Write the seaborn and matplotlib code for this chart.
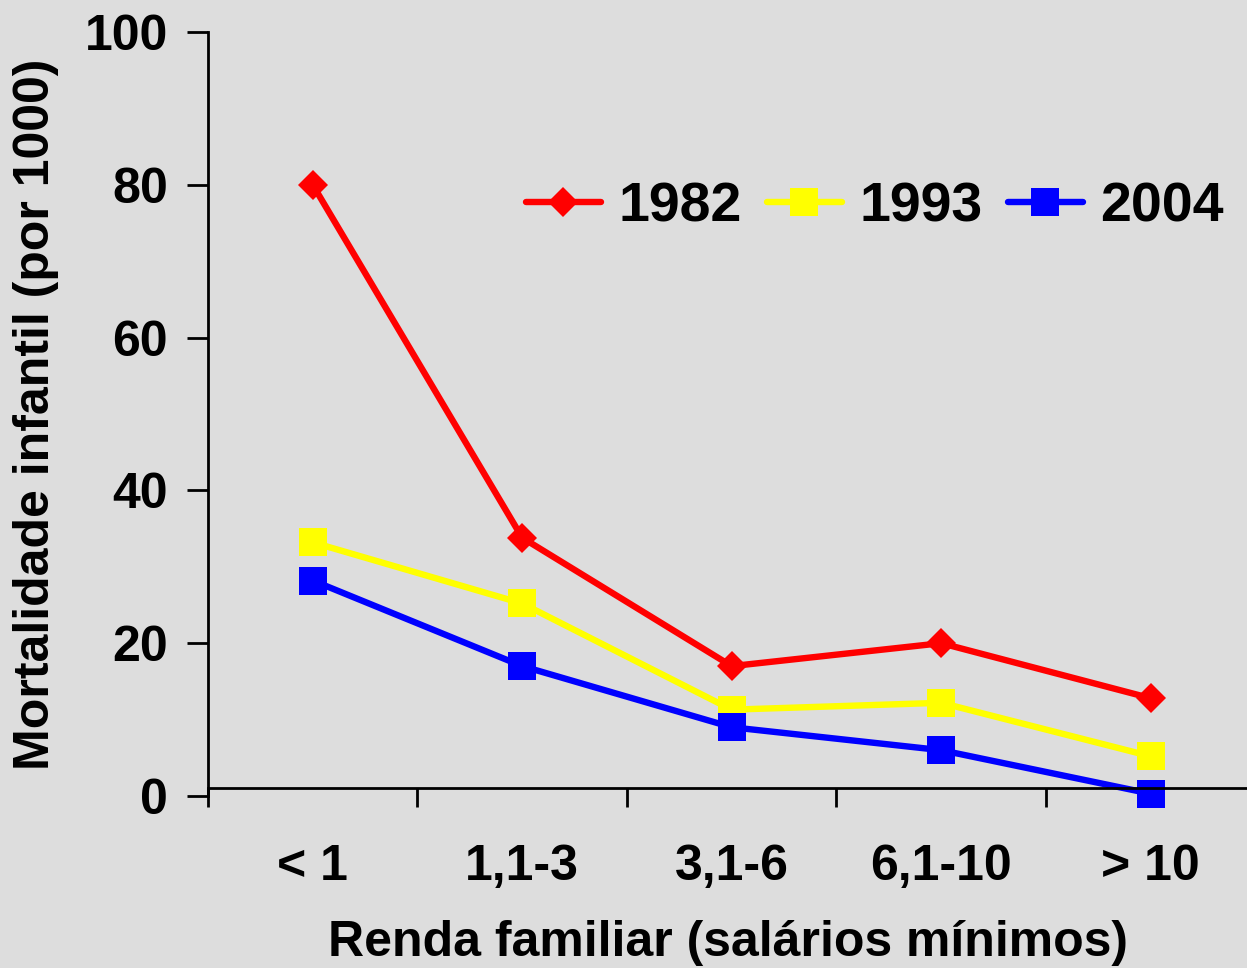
import pandas as pd
import seaborn as sns
import matplotlib.pyplot as plt
import numpy as np

# Data
renda = ['< 1', '1,1-3', '3,1-6', '6,1-10', '> 10']
anos = ['1982', '1993', '2004']
mort_1982 = [80.0, 33.8, 17.0, 20.0, 12.8]
mort_1993 = [33.2, 25.2, 11.3, 12.2, 5.2]
mort_2004 = [28.2, 17.0, 9.0, 6.0, 0.3]

df = pd.DataFrame({
    'renda': renda * 3,
    'ano': [a for a in anos for _ in renda],
    'mort': mort_1982 + mort_1993 + mort_2004,
})

cores = {'1982': '#FF0000', '1993': '#FFFF00', '2004': '#0000FF'}
marcadores = {'1982': 'D', '1993': 's', '2004': 's'}
bg = '#DDDDDD'

sns.set_style('white')
plt.rcParams['font.family'] = ['Liberation Sans', 'DejaVu Sans']
plt.rcParams['font.weight'] = 'bold'
for k in ['text.color', 'axes.labelcolor', 'xtick.color', 'ytick.color']:
    plt.rcParams[k] = 'black'

fig = plt.figure(figsize=(12.47, 9.68), dpi=100, facecolor=bg)
ax = fig.add_axes([208 / 1247, 1 - 796 / 968, 1 - 208 / 1247, (796 - 32) / 968])
ax.set_facecolor(bg)

sns.lineplot(data=df, x='renda', y='mort', hue='ano', style='ano',
             palette=cores, markers=marcadores, dashes=False,
             linewidth=4.6, markersize=20, markeredgewidth=0,
             sort=False, ax=ax, clip_on=False)

# diamonds a bit smaller than squares
for line in ax.get_lines():
    if line.get_marker() == 'D':
        line.set_markersize(15)

ax.set_xlim(-0.5, 4.46)
ax.set_ylim(0, 100)
ax.set_yticks([0, 20, 40, 60, 80, 100])
ax.set_xticks(range(len(renda)))
ax.set_xticklabels(renda)
ax.set_xticks(np.arange(-0.5, 4.5, 1.0), minor=True)

for s in ['top', 'right']:
    ax.spines[s].set_visible(False)
ax.spines['bottom'].set_position(('data', 1.0))
for s in ['left', 'bottom']:
    ax.spines[s].set_color('black')
    ax.spines[s].set_linewidth(2)

ax.tick_params(axis='y', direction='out', length=15, width=2, labelsize=36, pad=14, left=True)
ax.tick_params(axis='x', which='major', length=0, labelsize=36, pad=40)
ax.tick_params(axis='x', which='minor', direction='out', length=14, width=2, bottom=True)

ax.set_xlabel('Renda familiar (salários mínimos)', fontsize=36, fontweight='bold', labelpad=22)
ax.set_ylabel('Mortalidade infantil (por 1000)', fontsize=36, fontweight='bold', labelpad=18)

leg = ax.legend(loc='upper right', bbox_to_anchor=(1.026, 0.87), ncol=3, frameon=False,
                fontsize=40, handlelength=1.35, handletextpad=0.32, columnspacing=0.45,
                title=None)
for h in leg.legend_handles:
    h.set_linewidth(4.6)

fig.savefig('out.png', dpi=100, facecolor=bg)
